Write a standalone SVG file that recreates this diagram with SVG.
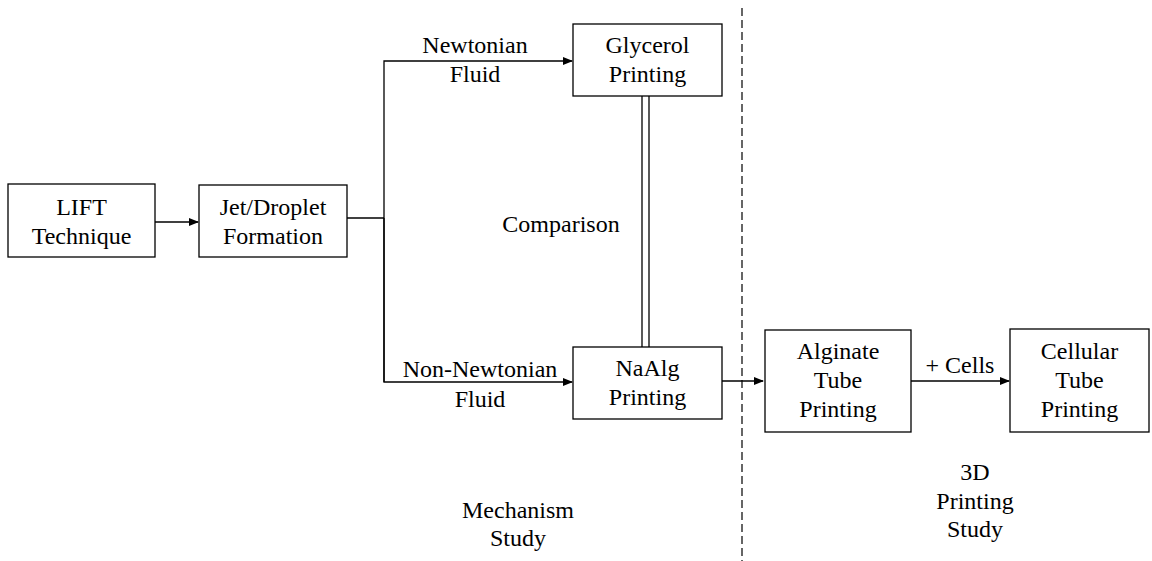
<svg xmlns="http://www.w3.org/2000/svg" width="1152" height="561" viewBox="0 0 1152 561">
<style>
.box{fill:#fff;stroke:#000;stroke-width:1.3}
.ln{fill:none;stroke:#000;stroke-width:1.3}
text{font-family:"Liberation Serif","Times New Roman",serif;font-size:24px;fill:#000;text-anchor:middle}
</style>
<defs>
<marker id="ah" markerWidth="10" markerHeight="8" refX="9" refY="4" orient="auto" markerUnits="userSpaceOnUse">
<path d="M0,0 L10,4 L0,8 Z" fill="#000"/>
</marker>
</defs>
<rect width="1152" height="561" fill="#fff"/>
<g id="connectors">
<line class="ln" x1="155" y1="222" x2="198" y2="222" marker-end="url(#ah)"/>
<polyline class="ln" points="347,218 384,218"/>
<polyline class="ln" points="384,382 384,61 572,61" marker-end="url(#ah)"/>
<polyline class="ln" points="384,218 384,382 572,382" marker-end="url(#ah)"/>
<line class="ln" x1="642" y1="96" x2="642" y2="347"/>
<line class="ln" x1="649" y1="96" x2="649" y2="347"/>
<line class="ln" x1="722" y1="381" x2="763" y2="381" marker-end="url(#ah)"/>
<line class="ln" x1="911" y1="381" x2="1009" y2="381" marker-end="url(#ah)"/>
<line x1="742" y1="8" x2="742" y2="561" stroke="#000" stroke-width="1.2" stroke-dasharray="8,4"/>
</g>
<g id="lift"><rect class="box" x="8" y="184" width="147" height="73"/><text x="81.5" y="215">LIFT</text><text x="81.5" y="244">Technique</text></g>
<g id="jet"><rect class="box" x="199" y="185" width="148" height="72"/><text x="273" y="215">Jet/Droplet</text><text x="273" y="244">Formation</text></g>
<g id="glycerol"><rect class="box" x="573" y="24" width="149" height="72"/><text x="647.5" y="53">Glycerol</text><text x="647.5" y="82">Printing</text></g>
<g id="naalg"><rect class="box" x="573" y="347" width="149" height="72"/><text x="647.5" y="376">NaAlg</text><text x="647.5" y="405">Printing</text></g>
<g id="alginate"><rect class="box" x="765" y="330" width="146" height="102"/><text x="838" y="359">Alginate</text><text x="838" y="388">Tube</text><text x="838" y="417">Printing</text></g>
<g id="cellular"><rect class="box" x="1010" y="329" width="139" height="103"/><text x="1079.5" y="359">Cellular</text><text x="1079.5" y="388">Tube</text><text x="1079.5" y="417">Printing</text></g>
<g id="labels">
<text x="475" y="53">Newtonian</text><text x="475" y="82">Fluid</text>
<text x="480" y="377">Non-Newtonian</text><text x="480" y="407">Fluid</text>
<text x="561" y="232">Comparison</text>
<text x="960" y="373">+ Cells</text>
<text x="518" y="518">Mechanism</text><text x="518" y="546">Study</text>
<text x="975" y="480">3D</text><text x="975" y="509">Printing</text><text x="975" y="537">Study</text>
</g>
</svg>
